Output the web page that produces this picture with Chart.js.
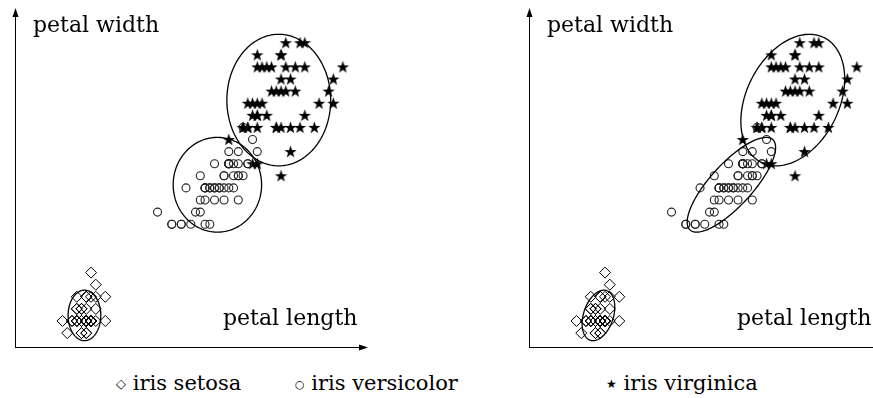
<!DOCTYPE html>
<html>
<head>
<meta charset="utf-8">
<script src="https://cdn.jsdelivr.net/npm/chart.js@4.4.0/dist/chart.umd.min.js"></script>
<style>
  html, body { margin: 0; padding: 0; width: 873px; height: 398px; overflow: hidden; background: #fff; }
  .panel { position: absolute; top: 0; width: 380px; height: 360px; }
  .lbl { position: absolute; font-family: "DejaVu Serif", serif; font-size: 22px; line-height: 1; color: #000; white-space: nowrap; }
  .leg { position: absolute; top: 373px; font-family: "DejaVu Serif", serif; font-size: 21px; line-height: 1; color: #000; white-space: nowrap; }
  .sym { font-family: "DejaVu Sans", sans-serif; display: inline-block; vertical-align: 2px; }
</style>
</head>
<body>
<div class="panel" style="left:0px"><canvas id="left" width="380" height="360"></canvas></div>
<div class="panel" style="left:514px"><canvas id="right" width="380" height="360"></canvas></div>

<div class="lbl" style="left:33px; top:14px">petal width</div>
<div class="lbl" style="left:223px; top:307px">petal length</div>
<div class="lbl" style="left:547px; top:14px">petal width</div>
<div class="lbl" style="left:737px; top:307px">petal length</div>

<div class="leg" style="left:116px"><span class="sym" style="font-size:13px">&#x25C7;</span> iris setosa</div>
<div class="leg" style="left:295px"><span class="sym" style="font-size:11px">&#x25CB;</span> iris versicolor</div>
<div class="leg" style="left:606px"><span class="sym" style="font-size:12px">&#x2605;</span> iris virginica</div>

<script>
// iris data: petal length / petal width per species
const setosaLength = [1.4,1.4,1.3,1.5,1.4,1.7,1.4,1.5,1.4,1.5,1.5,1.6,1.4,1.1,1.2,1.5,1.3,1.4,1.7,1.5,
                      1.7,1.5,1.0,1.7,1.9,1.6,1.6,1.5,1.4,1.6,1.6,1.5,1.5,1.4,1.5,1.2,1.3,1.4,1.3,1.5,
                      1.3,1.3,1.3,1.6,1.9,1.4,1.6,1.4,1.5,1.4];
const setosaWidth  = [0.2,0.2,0.2,0.2,0.2,0.4,0.3,0.2,0.2,0.1,0.2,0.2,0.1,0.1,0.2,0.4,0.4,0.3,0.3,0.3,
                      0.2,0.4,0.2,0.5,0.2,0.2,0.4,0.2,0.2,0.2,0.2,0.4,0.1,0.2,0.2,0.2,0.2,0.1,0.2,0.2,
                      0.3,0.3,0.2,0.6,0.4,0.3,0.2,0.2,0.2,0.2];

const versicolorLength = [4.7,4.5,4.9,4.0,4.6,4.5,4.7,3.3,4.6,3.9,3.5,4.2,4.0,4.7,3.6,4.4,4.5,4.1,4.5,3.9,
                          4.8,4.0,4.9,4.7,4.3,4.4,4.8,5.0,4.5,3.5,3.8,3.7,3.9,5.1,4.5,4.5,4.7,4.4,4.1,4.0,
                          4.4,4.6,4.0,3.3,4.2,4.2,4.2,4.3,3.0,4.1];
const versicolorWidth  = [1.4,1.5,1.5,1.3,1.5,1.3,1.6,1.0,1.3,1.4,1.0,1.5,1.0,1.4,1.3,1.4,1.5,1.0,1.5,1.1,
                          1.8,1.3,1.5,1.2,1.3,1.4,1.4,1.7,1.5,1.0,1.1,1.0,1.2,1.6,1.5,1.6,1.5,1.3,1.3,1.3,
                          1.2,1.4,1.2,1.0,1.3,1.2,1.3,1.3,1.1,1.3];

const virginicaLength = [6.0,5.1,5.9,5.6,5.8,6.6,4.5,6.3,5.8,6.1,5.1,5.3,5.5,5.0,5.1,5.3,5.5,6.7,6.9,5.0,
                         5.7,4.9,6.7,4.9,5.7,6.0,4.8,4.9,5.6,5.8,6.1,6.4,5.6,5.1,5.6,6.1,5.6,5.5,4.8,5.4,
                         5.6,5.1,5.1,5.9,5.7,5.2,5.0,5.2,5.4,5.1];
const virginicaWidth  = [2.5,1.9,2.1,1.8,2.2,2.1,1.7,1.8,1.8,2.5,2.0,1.9,2.1,2.0,2.4,2.3,1.8,2.2,2.3,1.5,
                         2.3,2.0,2.0,1.8,2.1,1.8,1.8,1.8,2.1,1.6,1.9,2.0,2.2,1.5,1.4,2.3,2.4,1.8,1.8,2.1,
                         2.4,2.3,1.9,2.3,2.5,2.3,1.9,2.0,2.3,1.8];

const xRange = [0, 7.43];
const yRange = [-0.015, 2.787];

function toPoints(xs, ys) {
    return xs.map((v, i) => ({x: v, y: ys[i]}));
}

// five pointed star used as point style
function makeStar(r, ratio) {
    const c = document.createElement('canvas');
    const s = Math.ceil(r * 2 + 2);
    c.width = s;
    c.height = s;
    const g = c.getContext('2d');
    g.translate(s / 2, s / 2 + 0.5);
    g.fillStyle = '#000';
    g.beginPath();
    for (let i = 0; i < 10; i++) {
        const rr = i % 2 ? r * ratio : r;
        const a = -Math.PI / 2 + i * Math.PI / 5;
        g.lineTo(rr * Math.cos(a), rr * Math.sin(a));
    }
    g.closePath();
    g.fill();
    return c;
}
const starImg = makeStar(6.5, 0.4);

function stats(xs, ys) {
    const n = xs.length;
    const mx = xs.reduce((a, b) => a + b, 0) / n;
    const my = ys.reduce((a, b) => a + b, 0) / n;
    let sxx = 0, syy = 0, sxy = 0;
    for (let i = 0; i < n; i++) {
        sxx += (xs[i] - mx) * (xs[i] - mx);
        syy += (ys[i] - my) * (ys[i] - my);
        sxy += (xs[i] - mx) * (ys[i] - my);
    }
    return {mx, my, sxx: sxx / n, syy: syy / n, sxy: sxy / n};
}

// draws a 2 sigma ellipse, full covariance or only the diagonal
function drawEllipse(chart, xs, ys, full) {
    const ctx = chart.ctx;
    const sx = chart.scales.x, sy = chart.scales.y;
    const s = stats(xs, ys);
    const a = Math.sqrt(s.sxx);
    const b = full ? s.sxy / a : 0;
    const c = Math.sqrt(s.syy - b * b);
    ctx.beginPath();
    for (let i = 0; i <= 180; i++) {
        const t = i / 180 * 2 * Math.PI;
        const u = Math.cos(t), v = Math.sin(t);
        const px = sx.getPixelForValue(s.mx + 2 * a * u);
        const py = sy.getPixelForValue(s.my + 2 * (b * u + c * v));
        if (i === 0) ctx.moveTo(px, py); else ctx.lineTo(px, py);
    }
    ctx.closePath();
    ctx.stroke();
}

const decorPlugin = {
    id: 'decor',
    afterDatasetsDraw(chart) {
        const ctx = chart.ctx;
        const area = chart.chartArea;
        ctx.save();
        ctx.strokeStyle = '#000';
        ctx.fillStyle = '#000';

        // axes with arrow heads
        ctx.lineWidth = 1;
        ctx.beginPath();
        ctx.moveTo(area.left + 0.5, area.bottom);
        ctx.lineTo(area.left + 0.5, area.top + 6);
        ctx.moveTo(area.left, area.bottom + 0.5);
        ctx.lineTo(area.right - 6, area.bottom + 0.5);
        ctx.stroke();
        ctx.beginPath();
        ctx.moveTo(area.left + 0.5, area.top);
        ctx.lineTo(area.left - 2.5, area.top + 9);
        ctx.lineTo(area.left + 3.5, area.top + 9);
        ctx.closePath();
        ctx.fill();
        ctx.beginPath();
        ctx.moveTo(area.right, area.bottom + 0.5);
        ctx.lineTo(area.right - 9, area.bottom - 2.5);
        ctx.lineTo(area.right - 9, area.bottom + 3.5);
        ctx.closePath();
        ctx.fill();

        const full = chart.options.plugins.decor.full;
        ctx.lineWidth = 1.3;
        drawEllipse(chart, setosaLength, setosaWidth, full);
        drawEllipse(chart, versicolorLength, versicolorWidth, full);
        drawEllipse(chart, virginicaLength, virginicaWidth, full);
        ctx.restore();
    }
};

function makeChart(id, full) {
    return new Chart(document.getElementById(id), {
        type: 'scatter',
        data: {
            datasets: [
                {
                    label: 'iris setosa',
                    data: toPoints(setosaLength, setosaWidth),
                    pointStyle: 'rectRot',
                    pointRadius: 5.5,
                    borderColor: '#000',
                    backgroundColor: 'rgba(0,0,0,0)',
                    borderWidth: 1
                },
                {
                    label: 'iris versicolor',
                    data: toPoints(versicolorLength, versicolorWidth),
                    pointStyle: 'circle',
                    pointRadius: 4,
                    borderColor: '#222',
                    backgroundColor: 'rgba(0,0,0,0)',
                    borderWidth: 1.1
                },
                {
                    label: 'iris virginica',
                    data: toPoints(virginicaLength, virginicaWidth),
                    pointStyle: starImg,
                    pointRadius: 6.5
                }
            ]
        },
        options: {
            responsive: false,
            animation: false,
            layout: {padding: {left: 15, right: 12, top: 8, bottom: 13}},
            scales: {
                x: {type: 'linear', min: xRange[0], max: xRange[1], display: false},
                y: {type: 'linear', min: yRange[0], max: yRange[1], display: false}
            },
            plugins: {
                legend: {display: false},
                tooltip: {enabled: false},
                decor: {full: full}
            },
            elements: {point: {hoverRadius: 0}}
        },
        plugins: [decorPlugin]
    });
}

makeChart('left', false);
makeChart('right', true);
</script>
</body>
</html>
